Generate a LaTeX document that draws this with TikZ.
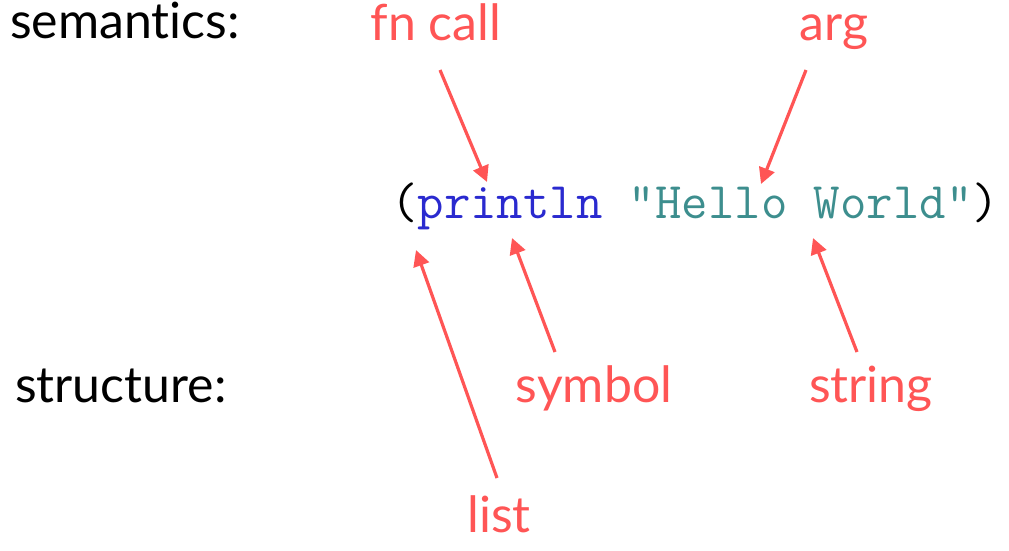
\documentclass[tikz,border=0pt]{standalone}
\usepackage{fontspec}
\setmainfont{Lato}[Ligatures=NoCommon]
\usetikzlibrary{arrows.meta}
\definecolor{lblred}{HTML}{FF5555}
\definecolor{kwblue}{HTML}{2A2ACF}
\definecolor{strteal}{HTML}{3D8E8E}
\tikzset{
  lbl/.style={font=\fontsize{50}{54}\selectfont, inner sep=0pt, anchor=base},
  redlbl/.style={lbl, text=lblred},
  arr/.style={draw=lblred, line width=3.2pt, -{Triangle[length=16pt,width=16pt]}},
}
\begin{document}
\begin{tikzpicture}[x=1pt,y=-1pt]
\useasboundingbox (0,0) rectangle (1009,550);
\node[lbl, anchor=base west] (sem) at (10,38) {semantics:};
\node[lbl, anchor=base west] (str) at (15,402) {structure:};
\node[redlbl] (fn) at (436,40) {fn call};
\node[redlbl] (arg) at (834,40) {arg};
\node[redlbl] (sym) at (594,402) {symbol};
\node[redlbl] (string) at (871,402) {string};
\node[redlbl] (list) at (499,532) {list};
\node[inner sep=0pt, anchor=base west, font=\ttfamily\fontsize{51.3}{54}\selectfont] (code) at (391,218)
  {(\textcolor{kwblue}{println} \textcolor{strteal}{"Hello World"})};
\coordinate (fnS) at (440,70);
\coordinate (fnE) at (487,182);
\coordinate (argS) at (806,70);
\coordinate (argE) at (761,184);
\coordinate (listS) at (497,478);
\coordinate (listE) at (416,250);
\coordinate (symS) at (555,352);
\coordinate (symE) at (512,238);
\coordinate (strS) at (857,352);
\coordinate (strE) at (813,238);
\draw[arr] (fnS) -- (fnE);
\draw[arr] (argS) -- (argE);
\draw[arr] (listS) -- (listE);
\draw[arr] (symS) -- (symE);
\draw[arr] (strS) -- (strE);
\end{tikzpicture}
\end{document}
